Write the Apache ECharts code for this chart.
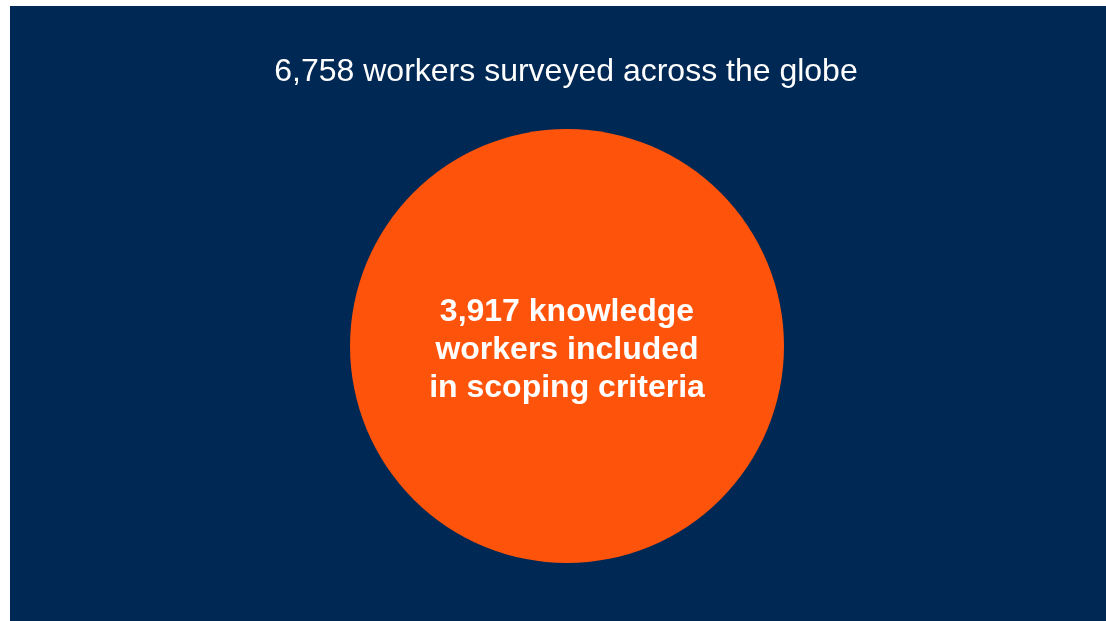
<!DOCTYPE html>
<html>
<head>
<meta charset="utf-8">
<style>
  html, body { margin: 0; padding: 0; background: #ffffff; }
  #chart { width: 1106px; height: 621px; }
</style>
<script src="https://cdn.jsdelivr.net/npm/echarts@6/dist/echarts.min.js"></script>
</head>
<body>
<div id="chart"></div>
<script>
// Survey headcounts
const surveyedWorkers = 6758;
const includedWorkers = 3917;

// Text pieces
const titleSuffix = 'workers surveyed across the globe';
const includedLines = ['knowledge', 'workers included', 'in scoping criteria'];

const NAVY = '#002855';
const ORANGE = '#FE530B';
const FONT = '"Liberation Sans", Arial, Helvetica, sans-serif';

const fmt = n => n.toLocaleString('en-US');

const chart = echarts.init(document.getElementById('chart'), null, { renderer: 'canvas' });

chart.setOption({
  backgroundColor: '#ffffff',
  animation: false,
  graphic: [
    {
      type: 'rect',
      left: 10, top: 6, z: -10,
      shape: { width: 1096, height: 615 },
      style: { fill: NAVY },
      silent: true
    },
    {
      type: 'text',
      x: 566, y: 72,
      style: {
        text: fmt(surveyedWorkers) + ' ' + titleSuffix,
        fill: '#ffffff',
        font: 'normal 32px ' + FONT,
        textAlign: 'center',
        textVerticalAlign: 'middle'
      },
      silent: true
    }
  ],
  series: [
    {
      type: 'pie',
      center: [567, 346],
      radius: [0, 217],
      silent: true,
      startAngle: 90,
      itemStyle: { color: ORANGE, borderWidth: 0 },
      label: {
        show: true,
        position: 'center',
        offset: [0, 4],
        color: '#ffffff',
        fontFamily: FONT,
        fontWeight: 'bold',
        fontSize: 32,
        lineHeight: 38,
        align: 'center',
        formatter: () => fmt(includedWorkers) + ' ' + includedLines.join('\n')
      },
      labelLine: { show: false },
      data: [{ name: 'included', value: includedWorkers }]
    }
  ]
});
</script>
</body>
</html>
